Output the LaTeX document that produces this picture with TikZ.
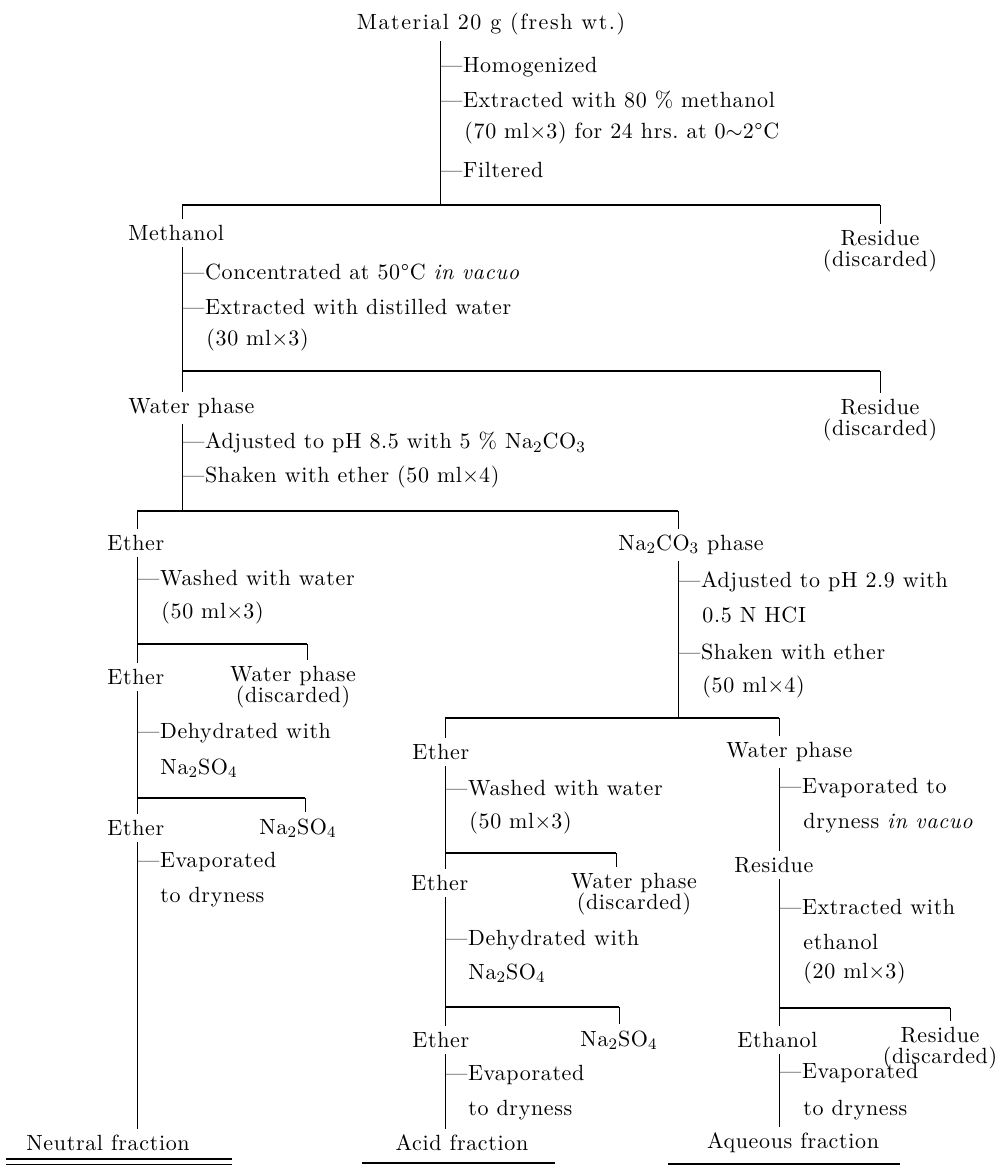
\documentclass[tikz,border=0pt]{standalone}
\usepackage{fontspec}
\setmainfont{Latin Modern Roman}[LetterSpace=3]
\usepackage{tikz}

\tikzset{
  lbl/.style={inner xsep=0pt, inner ysep=3pt, font=\fontsize{11}{13}\selectfont},
  titlelbl/.style={lbl, font=\fontsize{11}{13}\selectfont\addfontfeatures{LetterSpace=7}},
  stepnote/.style={lbl, anchor=west},
  twoline/.style={lbl, align=center, font=\fontsize{11}{10.5}\selectfont},
  split/.style={line width=0.7pt},
  flow/.style={line width=0.5pt},
  underl/.style={line width=0.8pt},
}

\begin{document}
\begin{tikzpicture}[x=0.5pt, y=-0.5pt]
  \useasboundingbox (0,0) rectangle (999,1166);
  % start material
  \node[titlelbl] (mat) at (491,24) {Material 20 g (fresh wt.)};
  \node[stepnote] (m1) at (440,67) {---Homogenized};
  \node[stepnote] (m2) at (440,100) {---Extracted with 80 \% methanol};
  \node[stepnote] (m3) at (464,133) {(70 ml$\times$3) for 24 hrs.\ at 0$\sim$2°C};
  \node[stepnote] (m4) at (440,170) {---Filtered};
  \coordinate (s1) at (440,205);
  \coordinate (s1l) at (182,205);
  \coordinate (s1r) at (880,205);
  \draw[flow] (mat.south -| s1) -- (s1);
  \draw[split] (s1l) -- (s1r);

  % methanol extract
  \node[stepnote] (meth) at (128,233) {Methanol};
  \node[twoline] (res1) at (880,251) {Residue\\(discarded)};
  \draw[flow] (s1l) -- (meth.north -| s1l);
  \draw[flow] (s1r) -- (res1.north);
  \node[stepnote] (c1) at (182,272) {---Concentrated at 50°C \textit{in vacuo}};
  \node[stepnote] (c2) at (182,307) {---Extracted with distilled water};
  \node[stepnote] (c3) at (206,340) {(30 ml$\times$3)};
  \coordinate (s2l) at (182,371);
  \coordinate (s2r) at (880,371);
  \draw[split] (s2l) -- (s2r);

  % water phase
  \node[stepnote] (wat) at (128,408) {Water phase};
  \node[twoline] (res2) at (880,420) {Residue\\(discarded)};
  \draw[flow] (meth.south -| s2l) -- (wat.north -| s2l);
  \draw[flow] (s2r) -- (res2.north);
  \node[stepnote] (w1) at (182,443) {---Adjusted to pH 8.5 with 5 \% Na$_2$CO$_3$};
  \node[stepnote] (w2) at (182,477) {---Shaken with ether (50 ml$\times$4)};
  \coordinate (s3) at (182,511);
  \coordinate (s3l) at (137,511);
  \coordinate (s3r) at (678,511);
  \draw[flow] (wat.south -| s3) -- (s3);
  \draw[split] (s3l) -- (s3r);

  % ether branch (neutral)
  \node[stepnote] (e1) at (107,543) {Ether};
  \node[stepnote] (nac) at (618,545) {Na$_2$CO$_3$ phase};
  \draw[flow] (s3l) -- (e1.north -| s3l);
  \draw[flow] (s3r) -- (nac.north -| s3r);
  \node[stepnote] (n1) at (137,578) {---Washed with water};
  \node[stepnote] (n2) at (161,613) {(50 ml$\times$3)};
  \coordinate (s4l) at (137,644);
  \coordinate (s4r) at (307,644);
  \draw[split] (s4l) -- (s4r);
  \node[stepnote] (e2) at (107,677) {Ether};
  \node[twoline] (wp1) at (293,687) {Water phase\\(discarded)};
  \draw[flow] (e1.south -| s4l) -- (e2.north -| s4l);
  \draw[flow] (s4r) -- (wp1.north -| s4r);
  \node[stepnote] (n3) at (137,733) {---Dehydrated with};
  \node[stepnote] (n4) at (160,768) {Na$_2$SO$_4$};
  \coordinate (s5l) at (137,798);
  \coordinate (s5r) at (305,798);
  \draw[split] (s5l) -- (s5r);
  \node[stepnote] (e3) at (107,828) {Ether};
  \node[lbl] (ns1) at (298,828) {Na$_2$SO$_4$};
  \draw[flow] (e2.south -| s5l) -- (e3.north -| s5l);
  \draw[flow] (s5r) -- (ns1.north -| s5r);
  \node[stepnote] (n5) at (137,862) {---Evaporated};
  \node[stepnote] (n6) at (160,897) {to dryness};
  \node[lbl] (neu) at (108,1143) {Neutral fraction};
  \draw[flow] (e3.south -| s5l) -- (neu.north -| s5l);
  \draw[underl] (6,1159) -- (232,1159);
  \draw[flow] (6,1164) -- (232,1164);

  % Na2CO3 phase
  \node[stepnote] (a1) at (678,582) {---Adjusted to pH 2.9 with};
  \node[stepnote] (a2) at (702,615) {0.5 N HCI};
  \node[stepnote] (a3) at (678,652) {---Shaken with ether};
  \node[stepnote] (a4) at (702,687) {(50 ml$\times$4)};
  \coordinate (s6) at (678,718);
  \coordinate (s6l) at (445,718);
  \coordinate (s6r) at (779,718);
  \draw[flow] (nac.south -| s6) -- (s6);
  \draw[split] (s6l) -- (s6r);

  % ether branch (acid)
  \node[stepnote] (e4) at (412,752) {Ether};
  \node[stepnote] (wp2) at (726,752) {Water phase};
  \draw[flow] (s6l) -- (e4.north -| s6l);
  \draw[flow] (s6r) -- (wp2.north -| s6r);
  \node[stepnote] (b1) at (445,788) {---Washed with water};
  \node[stepnote] (b2) at (469,823) {(50 ml$\times$3)};
  \coordinate (s7l) at (445,853);
  \coordinate (s7r) at (616,853);
  \draw[split] (s7l) -- (s7r);
  \node[stepnote] (e5) at (411,883) {Ether};
  \node[twoline] (wp3) at (634,894) {Water phase\\(discarded)};
  \draw[flow] (e4.south -| s7l) -- (e5.north -| s7l);
  \draw[flow] (s7r) -- (wp3.north -| s7r);
  \node[stepnote] (b3) at (445,940) {---Dehydrated with};
  \node[stepnote] (b4) at (468,973) {Na$_2$SO$_4$};
  \coordinate (s8l) at (445,1007);
  \coordinate (s8r) at (619,1007);
  \draw[split] (s8l) -- (s8r);
  \node[stepnote] (e6) at (412,1040) {Ether};
  \node[lbl] (ns2) at (619,1040) {Na$_2$SO$_4$};
  \draw[flow] (e5.south -| s8l) -- (e6.north -| s8l);
  \draw[flow] (s8r) -- (ns2.north -| s8r);
  \node[stepnote] (b5) at (445,1075) {---Evaporated};
  \node[stepnote] (b6) at (468,1110) {to dryness};
  \node[lbl] (acid) at (462,1143) {Acid fraction};
  \draw[flow] (e6.south -| s8l) -- (acid.north -| s8l);
  \draw[underl] (362,1163) -- (555,1163);

  % water phase branch (aqueous)
  \node[stepnote] (q1) at (779,788) {---Evaporated to};
  \node[stepnote] (q2) at (803,823) {dryness \textit{in vacuo}};
  \node[stepnote] (res3) at (734,865) {Residue};
  \draw[flow] (wp2.south -| s6r) -- (res3.north -| s6r);
  \node[stepnote] (q3) at (779,907) {---Extracted with};
  \node[stepnote] (q4) at (803,942) {ethanol};
  \node[stepnote] (q5) at (803,973) {(20 ml$\times$3)};
  \coordinate (s9l) at (779,1008);
  \coordinate (s9r) at (950,1008);
  \draw[split] (s9l) -- (s9r);
  \node[stepnote] (etoh) at (737,1040) {Ethanol};
  \node[twoline] (res4) at (940,1048) {Residue\\(discarded)};
  \draw[flow] (res3.south -| s9l) -- (etoh.north -| s9l);
  \draw[flow] (s9r) -- (res4.north -| s9r);
  \node[stepnote] (q6) at (779,1073) {---Evaporated};
  \node[stepnote] (q7) at (803,1110) {to dryness};
  \node[lbl] (aqu) at (793,1143) {Aqueous fraction};
  \draw[flow] (etoh.south -| s9l) -- (aqu.north -| s9l);
  \draw[underl] (668,1164) -- (900,1164);
\end{tikzpicture}
\end{document}
